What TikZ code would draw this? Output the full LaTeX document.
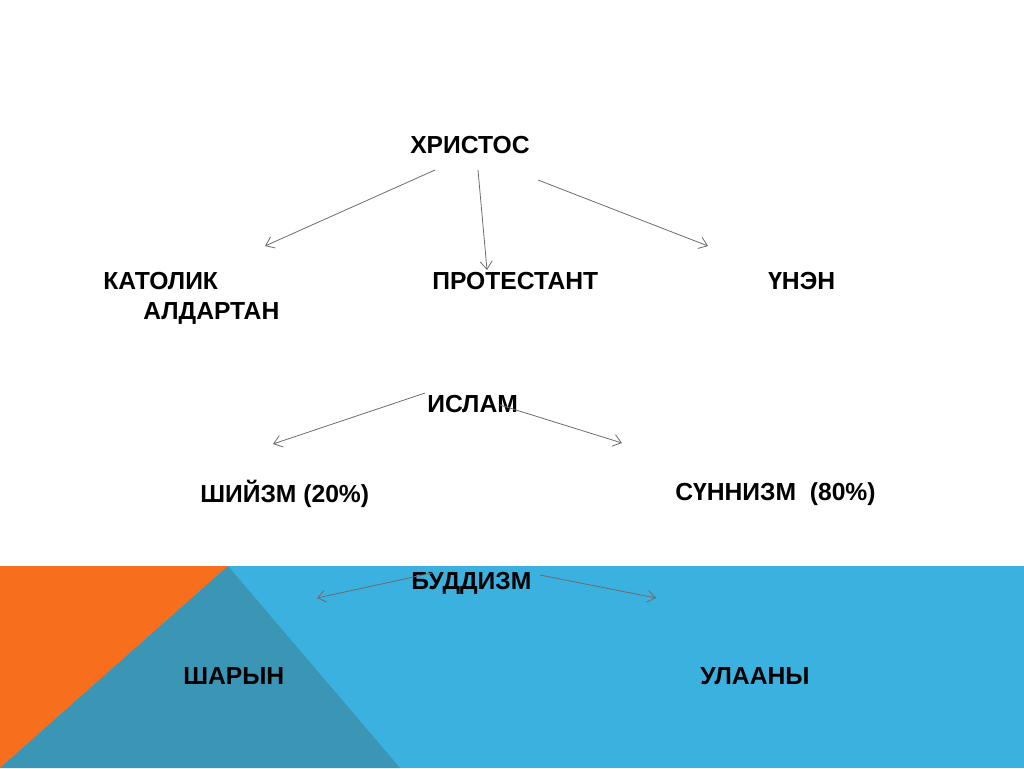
\documentclass[tikz,border=0pt]{standalone}
\usepackage{fontspec}
\setmainfont{Liberation Sans}
\usetikzlibrary{positioning,calc,arrows.meta}

\definecolor{bandblue}{HTML}{3BB1DF}
\definecolor{bandteal}{HTML}{3B95B5}
\definecolor{bandorange}{HTML}{F76F1D}

\begin{document}
\begin{tikzpicture}[
    x=0.75pt, y=-0.75pt,
    word/.style={font=\fontsize{18.5}{20}\selectfont\bfseries, inner sep=0pt, anchor=west},
    arrow/.style={-{Straight Barb[length=6pt,width=9pt]}, draw=gray!85!black, line width=0.6pt}
]
    \useasboundingbox (0,0) rectangle (1024,768);
    % background band
    \fill[bandblue] (0,566) rectangle (1024,768);
    \fill[bandorange] (0,566) -- (228,566) -- (0,768) -- cycle;
    \fill[bandteal] (228,566) -- (400,768) -- (0,768) -- cycle;

    \node[word] (xristos) at (410,145) {ХРИСТОС};
    \node[word] (katolik) at (103,281) {КАТОЛИК};
    \node[word] (aldartan) at (143,313) {АЛДАРТАН};
    \node[word] (protestant) at (432,281) {ПРОТЕСТАНТ};
    \node[word] (unen) at (768,281) {ҮНЭН};
    \node[word] (islam) at (427,404) {ИСЛАМ};
    \node[word] (shiizm) at (200,494) {ШИЙЗМ (20\%)};
    \node[word] (sunnizm) at (675,494) {СҮННИЗМ\ \ (80\%)};
    \node[word] (buddizm) at (411,583) {БУДДИЗМ};
    \node[word] (sharyn) at (183,676) {ШАРЫН};
    \node[word] (ulaany) at (700,676) {УЛААНЫ};

    % arrow ends
    \coordinate (x1) at (435,170); \coordinate (k1) at (265,246);
    \coordinate (x2) at (478,170); \coordinate (p1) at (487,270);
    \coordinate (x3) at (538,180); \coordinate (u1) at (708,246);
    \coordinate (i1) at (425,393); \coordinate (s1) at (273,444);
    \coordinate (i2) at (500,405); \coordinate (s2) at (622,443);
    \coordinate (b1) at (432,573); \coordinate (h1) at (317,598);
    \coordinate (b2) at (540,575); \coordinate (h2) at (656,598);

    \draw[arrow] (x1) -- (k1);
    \draw[arrow] (x2) -- (p1);
    \draw[arrow] (x3) -- (u1);
    \draw[arrow] (i1) -- (s1);
    \draw[arrow] (i2) -- (s2);
    \draw[arrow] (b1) -- (h1);
    \draw[arrow] (b2) -- (h2);
\end{tikzpicture}
\end{document}
